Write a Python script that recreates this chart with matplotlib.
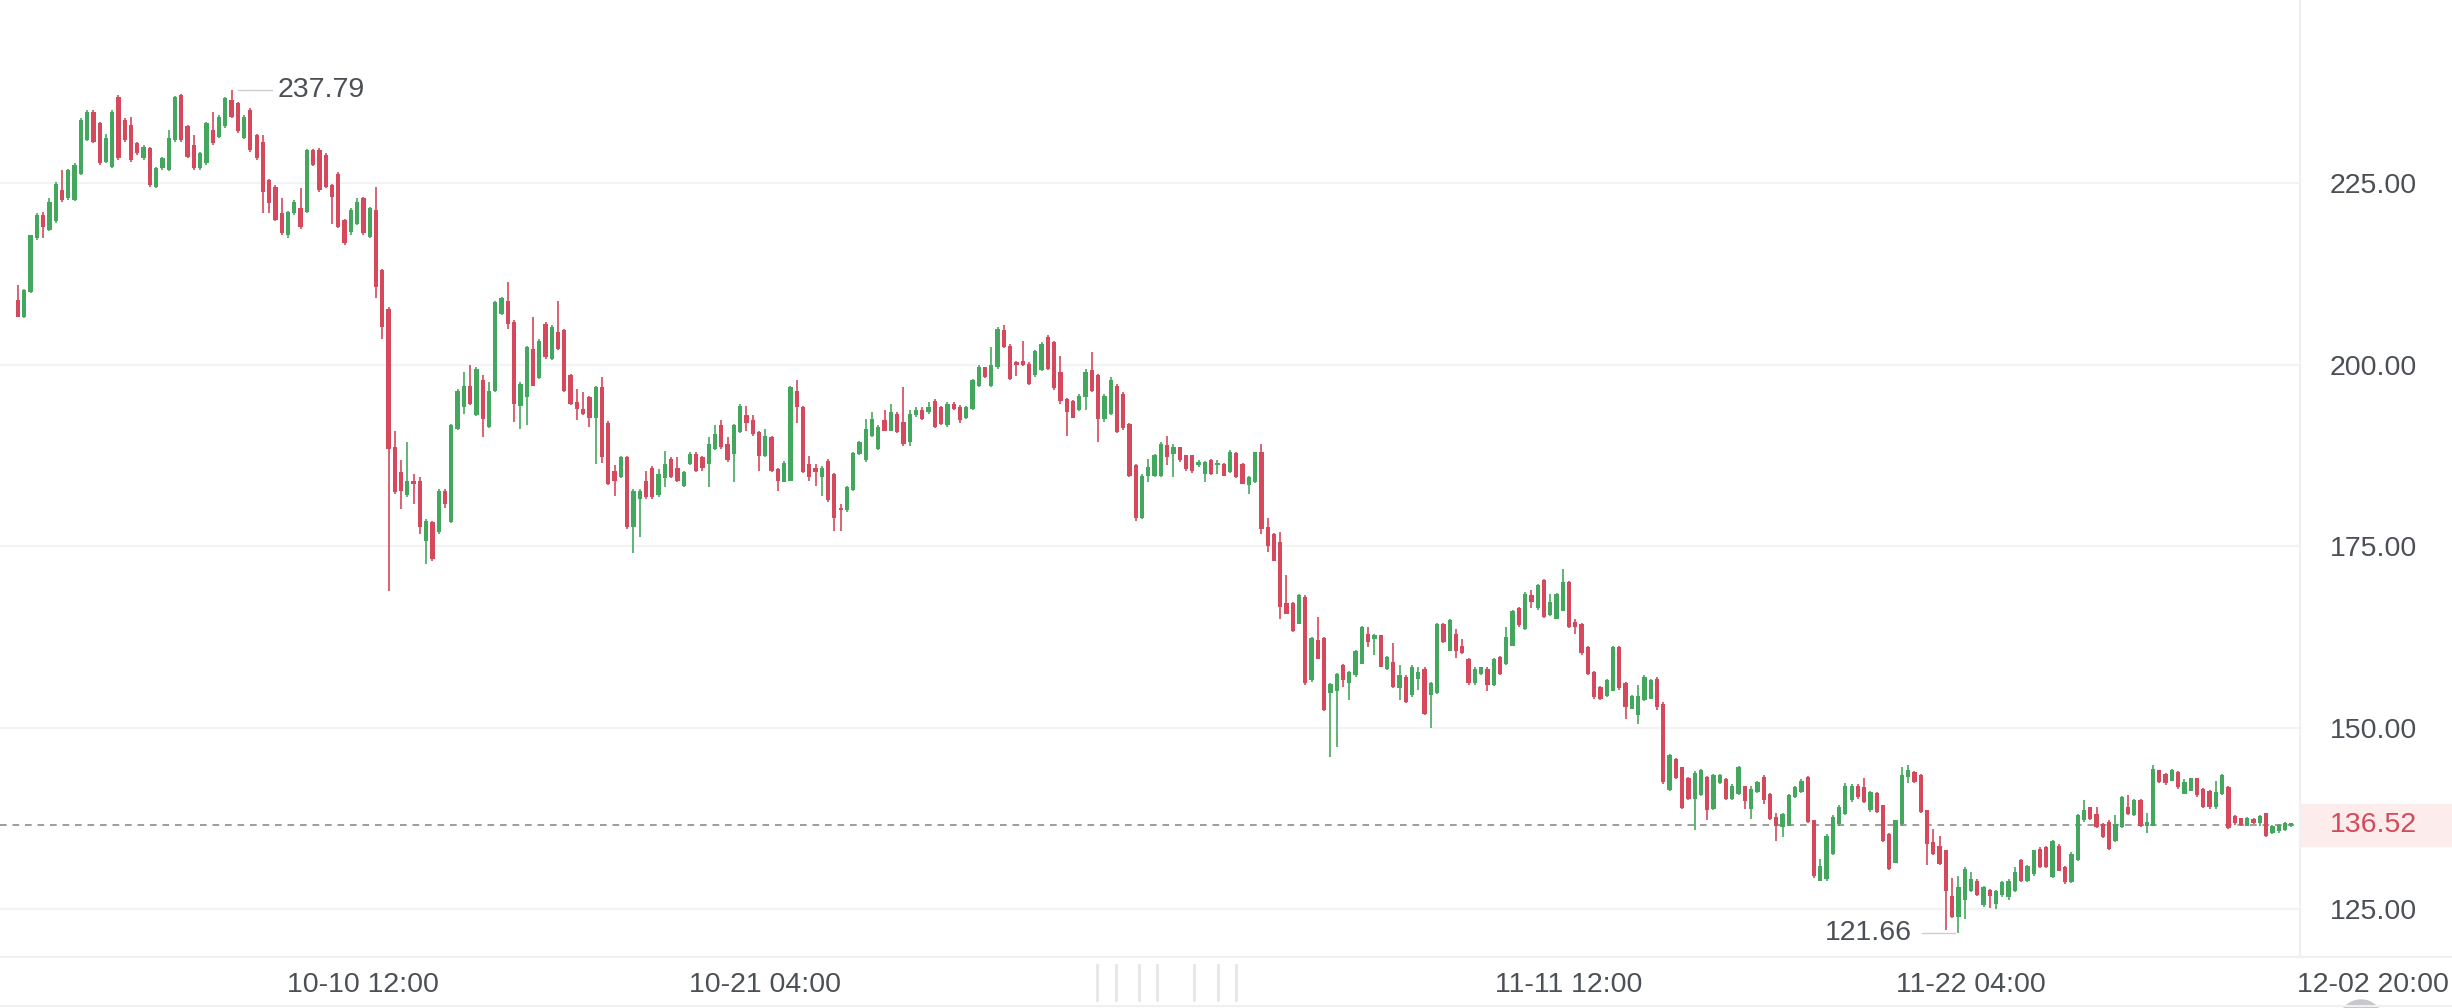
import matplotlib.pyplot as plt
import numpy as np
from matplotlib.lines import Line2D
from matplotlib.patches import Rectangle, Ellipse

# 4h candles, 10-01 08:00 .. 11-30 ~
opens = [
    208.9, 206.6, 210.0, 217.4, 220.6, 218.5, 219.7, 224.0, 222.9, 222.7,
    226.3, 230.9, 234.8, 233.2, 227.9, 227.2, 236.9, 233.7, 233.0, 230.5,
    228.4, 229.8, 224.5, 227.0, 226.8, 230.9, 237.1, 232.8, 230.2, 227.0,
    227.7, 232.3, 231.4, 232.8, 236.4, 236.0, 231.2, 235.1, 231.6, 230.7,
    225.4, 224.5, 220.8, 217.8, 220.8, 221.5, 221.0, 229.5, 229.5, 228.9,
    224.7, 226.3, 219.9, 218.3, 219.4, 222.9, 217.6, 221.3, 213.0, 207.7,
    188.6, 185.2, 182.0, 184.0, 184.0, 175.7, 178.3, 176.9, 182.6, 178.3,
    191.1, 194.1, 197.1, 193.0, 197.8, 191.4, 196.4, 207.0, 208.8, 205.8,
    194.3, 195.5, 202.2, 198.2, 205.6, 200.8, 204.5, 204.7, 198.5, 194.8,
    193.9, 195.5, 192.7, 196.9, 192.0, 185.4, 184.5, 187.2, 177.6, 181.5,
    184.0, 185.8, 182.0, 184.3, 187.0, 185.8, 183.3, 186.3, 187.7, 187.2,
    186.3, 188.4, 191.6, 189.1, 187.7, 190.7, 193.0, 192.3, 190.7, 187.4,
    190.0, 185.6, 183.8, 184.0, 196.4, 194.1, 186.3, 185.8, 184.5, 186.7,
    184.9, 180.3, 179.9, 182.7, 187.7, 186.8, 190.2, 188.4, 192.3, 190.9,
    193.2, 192.1, 189.3, 193.0, 193.7, 193.4, 195.0, 194.1, 191.6, 194.6,
    194.2, 192.7, 193.9, 197.1, 199.6, 197.1, 199.6, 204.7, 202.6, 200.3,
    200.5, 200.1, 198.5, 199.2, 203.8, 203.1, 198.9, 195.3, 195.0, 193.7,
    195.5, 199.2, 198.5, 192.5, 193.2, 197.1, 196.0, 191.8, 186.1, 178.8,
    184.7, 184.7, 184.7, 188.9, 187.7, 188.6, 187.5, 187.5, 186.1, 184.9,
    186.9, 186.1, 186.3, 185.2, 187.8, 186.3, 183.4, 183.8, 187.9, 177.6,
    176.7, 175.5, 167.1, 167.1, 164.3, 168.0, 156.5, 162.0, 162.3, 154.7,
    155.1, 158.6, 156.1, 157.2, 158.8, 162.9, 162.2, 162.7, 158.1, 159.0,
    155.4, 157.0, 154.5, 156.7, 158.1, 154.5, 154.7, 164.3, 160.6, 162.9,
    161.3, 159.5, 156.1, 157.4, 158.1, 155.8, 159.7, 158.8, 161.3, 166.4,
    163.6, 168.2, 166.4, 170.3, 165.5, 165.0, 166.1, 170.1, 164.5, 164.2,
    161.1, 157.7, 155.6, 154.4, 155.1, 161.1, 156.1, 152.6, 151.7, 153.8,
    154.0, 156.7, 153.3, 141.4, 145.7, 144.5, 143.1, 140.2, 140.7, 143.2,
    138.8, 142.3, 142.9, 140.2, 140.9, 141.9, 138.8, 141.1, 143.2, 140.9,
    137.7, 136.3, 136.5, 140.4, 141.1, 143.2, 137.2, 128.9, 129.1, 132.6,
    136.7, 138.1, 140.0, 142.0, 141.8, 138.6, 141.0, 139.3, 135.4, 131.4,
    136.7, 143.2, 143.9, 143.4, 138.6, 134.2, 133.7, 133.1, 126.8, 123.9,
    126.2, 127.5, 128.9, 125.5, 127.6, 125.7, 126.9, 126.6, 127.5, 131.7,
    128.9, 129.8, 133.3, 133.5, 129.4, 133.7, 130.8, 128.7, 131.7, 137.2,
    139.0, 138.1, 136.7, 137.0, 134.4, 136.3, 139.0, 137.9, 140.0, 136.5,
    136.5, 144.1, 143.6, 142.7, 143.9, 140.9, 141.3, 143.0, 141.6, 141.3,
    139.0, 140.9, 141.8, 137.8, 137.5, 136.5, 137.4, 136.8, 138.2, 135.5,
    135.7, 135.9, 136.4,
]
highs = [
    210.9, 210.4, 217.9, 220.8, 221.0, 222.9, 225.2, 226.8, 226.9, 227.7,
    233.9, 235.0, 235.0, 233.4, 231.8, 235.0, 237.1, 233.9, 234.1, 230.6,
    230.2, 230.0, 227.2, 228.6, 232.3, 237.0, 237.3, 233.0, 231.6, 229.3,
    233.4, 234.8, 234.3, 236.9, 237.79, 236.2, 234.3, 235.3, 231.8, 231.6,
    225.6, 224.7, 222.9, 221.2, 222.6, 224.3, 229.7, 229.7, 229.8, 229.1,
    224.9, 226.5, 220.1, 221.5, 222.9, 223.1, 221.7, 224.5, 213.2, 207.9,
    190.9, 186.8, 189.3, 184.9, 184.5, 178.7, 178.5, 182.9, 182.8, 191.8,
    196.6, 198.9, 199.9, 199.6, 198.5, 197.6, 208.8, 209.3, 211.4, 206.1,
    197.6, 202.6, 206.5, 203.5, 205.8, 205.4, 208.8, 204.9, 198.7, 196.6,
    196.2, 195.7, 197.1, 198.3, 192.2, 186.1, 187.4, 187.4, 182.8, 182.8,
    185.4, 186.0, 185.6, 188.1, 187.2, 187.2, 185.4, 187.9, 187.9, 187.4,
    190.0, 191.6, 192.3, 190.0, 191.8, 194.5, 194.3, 193.0, 190.9, 191.1,
    190.2, 185.8, 186.7, 197.1, 197.8, 194.3, 187.4, 186.3, 186.0, 187.0,
    185.1, 180.8, 183.3, 188.0, 189.5, 192.5, 193.4, 191.6, 193.7, 194.6,
    193.4, 196.9, 193.7, 194.1, 194.1, 194.8, 195.2, 194.3, 194.8, 194.9,
    194.4, 194.3, 198.0, 199.9, 199.7, 202.4, 205.1, 205.4, 202.8, 200.5,
    203.2, 200.3, 202.0, 203.1, 204.0, 203.3, 201.2, 195.4, 195.1, 196.0,
    199.4, 201.7, 198.7, 196.0, 198.3, 197.3, 196.2, 192.0, 186.3, 184.9,
    187.0, 187.7, 189.3, 190.2, 189.0, 188.7, 187.6, 187.6, 186.8, 186.7,
    187.0, 186.9, 186.4, 188.2, 187.9, 186.5, 184.7, 188.0, 189.1, 178.8,
    176.8, 176.9, 171.0, 167.3, 168.4, 168.2, 162.5, 165.2, 162.5, 156.1,
    157.5, 158.7, 157.8, 160.7, 164.0, 163.9, 162.9, 162.8, 159.9, 161.6,
    158.6, 157.2, 158.6, 158.4, 158.3, 156.3, 164.4, 164.4, 164.9, 163.6,
    162.2, 159.6, 158.3, 158.4, 158.3, 159.6, 159.9, 163.9, 166.2, 166.6,
    168.7, 168.9, 169.8, 170.5, 168.4, 168.5, 171.9, 170.2, 165.0, 164.4,
    161.2, 157.8, 155.7, 156.7, 161.2, 161.2, 156.3, 154.5, 155.8, 157.2,
    156.7, 156.9, 153.5, 146.3, 145.8, 144.6, 143.2, 144.0, 144.3, 143.3,
    143.6, 143.6, 143.0, 142.2, 144.7, 142.0, 142.0, 142.6, 143.4, 141.0,
    138.3, 138.3, 140.8, 141.9, 142.9, 143.3, 137.3, 131.9, 135.3, 137.9,
    139.3, 142.3, 142.2, 142.2, 143.0, 141.3, 141.1, 139.4, 135.5, 137.3,
    144.6, 144.8, 144.0, 143.6, 138.7, 136.0, 135.1, 133.2, 129.3, 129.5,
    130.8, 130.1, 129.1, 128.2, 127.7, 127.6, 128.9, 129.2, 130.8, 131.9,
    131.1, 133.2, 133.5, 133.7, 134.5, 134.0, 130.9, 132.8, 138.1, 140.0,
    139.1, 139.0, 136.9, 137.2, 137.9, 140.6, 140.7, 140.1, 140.1, 138.3,
    144.8, 144.2, 143.7, 144.3, 144.0, 142.9, 143.1, 143.1, 141.7, 141.4,
    142.7, 143.6, 141.9, 138.0, 137.6, 137.7, 137.5, 137.9, 138.3, 136.6,
    136.7, 137.0, 136.8,
]
lows = [
    206.5, 206.4, 209.8, 217.2, 217.4, 218.4, 219.5, 222.4, 222.7, 222.5,
    226.1, 230.8, 230.5, 227.5, 227.7, 227.0, 228.2, 230.7, 227.9, 228.9,
    228.2, 224.5, 224.3, 226.8, 226.6, 230.7, 230.7, 228.4, 226.8, 226.8,
    227.5, 230.2, 231.2, 232.6, 234.0, 231.9, 231.0, 229.3, 228.2, 220.8,
    220.8, 219.7, 217.8, 217.4, 220.6, 218.7, 220.8, 227.3, 223.8, 224.3,
    219.4, 218.8, 216.5, 217.8, 219.2, 217.9, 217.4, 209.1, 203.5, 168.8,
    182.1, 180.1, 181.7, 180.8, 176.7, 172.5, 173.0, 176.6, 180.3, 178.2,
    191.0, 193.2, 194.4, 192.9, 190.0, 191.2, 196.2, 206.8, 204.9, 192.1,
    191.1, 191.6, 197.0, 198.0, 200.8, 200.6, 202.0, 196.2, 194.4, 192.3,
    193.0, 191.4, 186.3, 186.5, 183.4, 181.9, 184.3, 177.4, 174.1, 176.2,
    181.5, 181.5, 181.7, 183.1, 184.3, 183.8, 183.1, 186.1, 185.2, 185.4,
    183.1, 188.2, 188.4, 186.6, 183.8, 190.5, 190.9, 190.2, 185.4, 187.2,
    185.2, 182.6, 183.8, 184.0, 192.0, 185.0, 184.0, 183.3, 181.9, 181.1,
    177.1, 177.1, 179.7, 182.6, 187.5, 186.6, 190.0, 188.2, 190.8, 190.8,
    190.5, 188.8, 188.8, 192.8, 192.4, 193.2, 191.2, 191.6, 191.4, 193.8,
    191.9, 192.5, 193.7, 196.9, 198.2, 196.9, 199.4, 202.3, 197.9, 198.4,
    199.8, 197.2, 198.3, 199.1, 199.2, 196.5, 194.6, 190.2, 192.6, 193.6,
    193.7, 196.2, 189.3, 192.1, 193.0, 190.5, 191.0, 184.5, 178.5, 178.7,
    183.8, 184.5, 184.5, 186.1, 184.5, 186.6, 185.4, 185.0, 185.9, 183.8,
    184.8, 184.9, 184.6, 185.1, 184.4, 183.5, 182.2, 183.7, 176.7, 174.2,
    172.9, 165.0, 165.6, 163.2, 164.2, 155.8, 156.3, 159.4, 152.3, 146.0,
    147.3, 155.6, 153.8, 157.0, 158.7, 161.1, 160.0, 158.3, 157.9, 155.4,
    153.8, 153.4, 154.2, 155.2, 151.7, 149.9, 154.6, 161.7, 160.5, 159.6,
    160.1, 155.9, 155.8, 157.2, 155.1, 155.7, 157.3, 158.6, 161.2, 163.9,
    163.4, 166.4, 166.2, 165.1, 165.3, 164.9, 166.0, 163.7, 162.9, 160.0,
    157.3, 154.0, 153.8, 154.2, 155.0, 155.2, 151.2, 152.5, 150.5, 153.6,
    153.9, 152.4, 142.2, 141.2, 142.9, 138.8, 140.0, 135.9, 140.6, 137.2,
    138.7, 142.2, 140.0, 140.0, 140.7, 138.8, 137.4, 141.0, 139.5, 137.2,
    134.4, 134.9, 136.4, 140.3, 141.0, 136.8, 129.3, 128.8, 128.9, 132.5,
    136.5, 137.9, 139.8, 140.2, 139.6, 138.4, 138.2, 134.3, 130.4, 131.3,
    136.5, 142.4, 142.4, 138.3, 131.1, 132.5, 131.1, 122.1, 123.8, 121.66,
    123.6, 127.3, 126.8, 125.3, 125.2, 125.0, 126.7, 126.3, 127.3, 128.7,
    128.7, 129.6, 130.6, 130.6, 129.3, 130.2, 128.5, 128.6, 131.6, 137.0,
    137.2, 136.2, 134.8, 133.2, 134.2, 136.1, 138.0, 137.8, 136.3, 135.5,
    136.4, 142.3, 142.1, 142.6, 141.6, 140.8, 141.2, 140.5, 138.9, 138.8,
    138.8, 140.7, 136.0, 136.6, 136.5, 136.4, 136.7, 136.5, 134.9, 135.3,
    135.5, 135.8, 136.3,
]
closes = [
    206.6, 210.3, 217.8, 220.6, 219.0, 222.4, 224.9, 222.7, 226.8, 227.5,
    233.7, 234.8, 230.7, 227.7, 231.2, 234.8, 228.4, 230.9, 228.2, 229.1,
    230.0, 224.7, 227.0, 228.4, 231.2, 236.9, 230.9, 228.6, 227.0, 229.1,
    233.2, 230.5, 234.1, 236.7, 234.1, 232.1, 234.1, 229.5, 228.4, 223.8,
    222.2, 219.9, 218.1, 221.0, 222.4, 219.0, 229.5, 227.5, 224.0, 224.5,
    223.1, 219.0, 216.7, 221.3, 222.4, 218.1, 221.5, 210.7, 205.2, 188.4,
    182.4, 182.6, 184.0, 183.5, 177.6, 178.5, 173.2, 182.6, 180.8, 191.6,
    196.4, 197.1, 194.6, 199.4, 192.5, 196.4, 208.6, 209.1, 205.6, 194.6,
    197.3, 202.4, 197.1, 203.3, 201.0, 205.1, 202.2, 196.4, 194.6, 193.9,
    193.2, 192.7, 196.9, 187.2, 183.5, 184.0, 187.2, 177.6, 182.6, 182.6,
    181.7, 181.7, 184.9, 186.3, 184.5, 184.0, 185.2, 187.7, 185.4, 185.8,
    189.1, 190.4, 188.6, 186.8, 191.6, 194.3, 192.0, 190.4, 187.4, 190.2,
    185.4, 184.0, 186.5, 196.9, 194.1, 185.2, 184.5, 185.2, 185.8, 181.3,
    178.9, 179.9, 183.1, 187.8, 189.3, 191.1, 192.5, 191.4, 190.9, 193.4,
    190.7, 189.1, 193.2, 193.7, 192.5, 194.1, 191.4, 191.8, 194.6, 193.9,
    192.3, 194.1, 197.8, 199.6, 198.3, 199.9, 204.9, 202.4, 198.0, 199.9,
    200.0, 197.3, 201.9, 202.8, 199.4, 196.7, 195.0, 193.4, 192.7, 195.7,
    198.9, 196.4, 192.5, 195.7, 197.8, 190.7, 191.2, 184.7, 178.8, 184.7,
    185.9, 187.5, 189.1, 187.2, 188.7, 186.8, 185.6, 185.4, 186.6, 186.6,
    184.9, 186.4, 184.7, 187.9, 184.5, 183.6, 184.5, 187.9, 177.4, 175.0,
    173.0, 166.6, 165.7, 163.3, 168.2, 156.1, 162.3, 159.5, 152.4, 156.0,
    157.4, 156.5, 157.7, 160.6, 163.9, 161.8, 162.7, 158.4, 159.7, 155.6,
    157.2, 153.5, 158.4, 157.7, 151.9, 156.1, 164.3, 161.8, 164.8, 160.6,
    160.2, 156.1, 158.1, 158.3, 155.8, 159.5, 157.4, 162.5, 166.1, 164.1,
    168.4, 167.3, 169.6, 165.2, 167.3, 168.4, 170.1, 163.9, 163.9, 160.2,
    157.4, 154.2, 153.9, 156.5, 161.1, 155.4, 152.8, 154.4, 154.4, 157.0,
    156.5, 152.8, 142.5, 146.2, 143.0, 138.9, 140.2, 143.8, 144.1, 138.6,
    143.4, 143.4, 140.2, 142.0, 144.6, 139.9, 141.6, 142.5, 140.0, 137.4,
    136.5, 138.1, 140.7, 141.8, 142.7, 137.0, 129.5, 131.0, 135.1, 137.7,
    139.0, 142.0, 142.0, 140.4, 139.7, 141.1, 138.4, 134.4, 130.5, 137.2,
    143.4, 144.1, 142.5, 138.4, 134.0, 132.6, 131.2, 127.5, 123.9, 128.0,
    130.5, 129.2, 126.9, 128.0, 126.8, 127.5, 128.7, 128.9, 130.1, 128.9,
    131.0, 133.1, 130.8, 130.8, 134.4, 130.3, 128.7, 132.6, 137.9, 138.6,
    137.4, 136.3, 134.9, 133.3, 136.7, 140.4, 138.1, 140.0, 136.5, 137.0,
    144.3, 142.5, 142.3, 144.1, 141.8, 142.5, 143.0, 140.7, 139.0, 139.0,
    141.1, 143.4, 136.2, 136.8, 136.6, 137.5, 136.8, 137.8, 135.0, 136.5,
    136.6, 136.9, 136.52,
]

time_pos = [55, 119, 247, 311, 375]
time_labels = ["10-10 12:00", "10-21 04:00", "11-11 12:00", "11-22 04:00", "12-02 20:00"]
price_ticks = [125, 150, 175, 200, 225]

green = "#43a85e"
red = "#d6485b"
txt = "#4b4f56"
line_c = "#eef0f2"

plt.rcParams["font.family"] = ["Liberation Sans", "DejaVu Sans"]
W, H = 2452, 1008
fig = plt.figure(figsize=(W / 100, H / 100), dpi=100)
ax = fig.add_axes([0, 51 / H, 2300 / W, 957 / H])

o = np.array(opens)
c = np.array(closes)
x = np.arange(len(c))
cols = np.where(c >= o, green, red)

ax.vlines(x, lows, highs, color=cols, linewidth=1.2, zorder=3)
ax.bar(x, np.maximum(np.abs(c - o), 0.4), bottom=np.minimum(o, c),
       width=0.68, color=cols, linewidth=0, zorder=3)

ax.set_xlim(-2.87, 363.4)
ax.set_ylim(118.4, 250.2)

# last price line + tag
last = closes[-1]
ax.axhline(last, color="#8c8c8c", linewidth=1.2, linestyle=(0, (4, 3.5)), zorder=2)
ax.add_patch(Rectangle((1.0, last - 2.9), W / 2300 - 1.0, 5.8,
                       transform=ax.get_yaxis_transform(), color="#fcecec",
                       clip_on=False, zorder=1))
ax.text(1 + 30 / 2300, last, f"{last:.2f}", transform=ax.get_yaxis_transform(),
        ha="left", va="center", fontsize=20.5, color="#d24a5c")

# y axis on the right
ax.set_yticks(price_ticks)
ax.set_yticklabels([f"{v:.2f}" for v in price_ticks])
ax.yaxis.tick_right()
ax.tick_params(axis="y", length=0, pad=21.6, labelsize=20.5, labelcolor=txt)
ax.grid(axis="y", color="#f2f3f5", linewidth=1.5)
ax.set_axisbelow(True)
ax.set_xticks([])
for s in ["top", "left", "bottom"]:
    ax.spines[s].set_visible(False)
ax.spines["right"].set_color(line_c)
ax.spines["right"].set_linewidth(1.5)

# time labels
for p, lab in zip(time_pos, time_labels):
    ax.text(p, -28 / 957, lab, transform=ax.get_xaxis_transform(),
            ha="center", va="center", fontsize=20.5, color=txt, clip_on=False)

# max / min markers
imax = int(np.argmax(highs))
imin = int(np.argmin(lows))
ax.plot([imax + 1.0, imax + 6.4], [highs[imax]] * 2, color="#cfcfcf", linewidth=1.0)
ax.text(imax + 7.3, highs[imax], f"{highs[imax]:.2f}", ha="left", va="center",
        fontsize=20.5, color=txt)
ax.plot([imin - 5.8, imin - 0.6], [lows[imin]] * 2, color="#cfcfcf", linewidth=1.0)
ax.text(imin - 7.4, lows[imin], f"{lows[imin]:.2f}", ha="right", va="center",
        fontsize=20.5, color=txt)

# frame lines of the screenshot
fig.add_artist(Line2D([0, 1], [51 / H, 51 / H], color=line_c, linewidth=1.5))
fig.add_artist(Line2D([0, 1], [2 / H, 2 / H], color=line_c, linewidth=1.5))
for bx in [1097, 1116, 1139, 1157, 1194, 1218, 1236]:
    fig.add_artist(Line2D([bx / W, bx / W], [1 - 1000 / H, 1 - 965 / H],
                          color="#e6e6e8", linewidth=2.0))
fig.add_artist(Ellipse((2361 / W, 1 - 1022 / H), 44 / W, 44 / H,
                       transform=fig.transFigure, color="#c8c8cc"))

fig.savefig("out.png", dpi=100)
